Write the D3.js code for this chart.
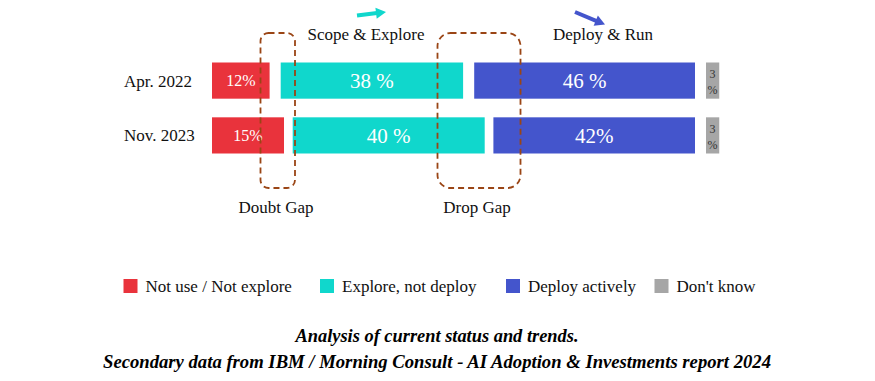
<!DOCTYPE html>
<html>
<head>
<meta charset="utf-8">
<script src="https://cdn.jsdelivr.net/npm/d3@7/dist/d3.min.js"></script>
<style>
  html, body { margin: 0; padding: 0; background: #ffffff; }
  svg { display: block; }
</style>
</head>
<body>
<svg id="chart" width="875" height="381"></svg>
<script>
// ---------- data ----------
const periods = ["Apr. 2022", "Nov. 2023"];
const notUse = [12, 15];
const explore = [38, 40];
const deploy = [46, 42];
const dontKnow = [3, 3];
const notUseLabels = ["12%", "15%"];
const exploreLabels = ["38 %", "40 %"];
const deployLabels = ["46 %", "42%"];
const dontKnowLabels = ["3\n%", "3\n%"];
const legendNames = ["Not use / Not explore", "Explore, not deploy", "Deploy actively", "Don't know"];
const phaseLabels = ["Scope & Explore", "Deploy & Run"];
const gapLabels = ["Doubt Gap", "Drop Gap"];
const captionLines = [
  "Analysis of current status and trends.",
  "Secondary data from IBM / Morning Consult - AI Adoption & Investments report 2024"
];

// ---------- styles ----------
const colors = ["#E9333C", "#10D7CC", "#4455CC", "#A6A6A6"];
const serif = "'Liberation Serif', 'Times New Roman', serif";
const gapColor = "#9A4515";

const svg = d3.select("#chart");

// ---------- scales ----------
const x0 = 212, blueEnd = 695, gap = 11;
const w = d3.scaleLinear().domain([0, 100]).range([0, 480]);
const y = d3.scaleBand().domain(periods).range([62.5, 153.5]).paddingInner(0.34).paddingOuter(0);

const rows = periods.map((p, i) => {
  const rW = w(notUse[i]), tW = w(explore[i]), bW = w(deploy[i]), gW = w(dontKnow[i]) * 0.92;
  const rX = x0;
  const bX = blueEnd - bW;
  const tX = (rX + rW + bX) / 2 - tW / 2;
  const gX = blueEnd + gap;
  return { p, segs: [
    { x: rX, w: rW, c: colors[0], label: notUseLabels[i], size: 16, fill: "#ffffff" },
    { x: tX, w: tW, c: colors[1], label: exploreLabels[i], size: 21, fill: "#ffffff" },
    { x: bX, w: bW, c: colors[2], label: deployLabels[i], size: 21, fill: "#ffffff" },
    { x: gX, w: gW, c: colors[3], label: dontKnowLabels[i], size: 12, fill: "#333333" }
  ]};
});

// ---------- bars ----------
const rowG = svg.selectAll("g.row").data(rows).join("g")
  .attr("class", "row")
  .attr("transform", d => `translate(0,${y(d.p)})`);

rowG.selectAll("rect").data(d => d.segs).join("rect")
  .attr("x", d => d.x).attr("y", 0)
  .attr("width", d => d.w).attr("height", y.bandwidth())
  .attr("fill", d => d.c);

rowG.selectAll("text.lab").data(d => d.segs).join("text")
  .attr("class", "lab")
  .style("font-family", serif)
  .attr("font-size", d => d.size)
  .attr("fill", d => d.fill)
  .attr("text-anchor", "middle")
  .each(function(d) {
    const parts = d.label.split("\n");
    const t = d3.select(this);
    const cx = d.x + d.w / 2;
    if (parts.length === 1) {
      t.append("tspan").attr("x", cx).attr("y", y.bandwidth() / 2 + d.size * 0.34).text(parts[0]);
    } else {
      t.append("tspan").attr("x", cx).attr("y", 15.5).text(parts[0]);
      t.append("tspan").attr("x", cx).attr("y", 31.5).text(parts[1]);
    }
  });

// row labels
svg.selectAll("text.period").data(periods).join("text")
  .attr("class", "period")
  .attr("x", 124)
  .attr("y", d => y(d) + y.bandwidth() / 2 + 6)
  .style("font-family", serif).attr("font-size", 17).attr("fill", "#111")
  .text(d => d);

// ---------- gap boxes (dashed rounded rects) ----------
const boxes = [
  { x: 260.5, y: 33, w: 34.5, h: 155, r: 8, label: gapLabels[0], lx: 276 },
  { x: 437.5, y: 33, w: 83, h: 155, r: 13, label: gapLabels[1], lx: 477 }
];
svg.selectAll("rect.gapbox").data(boxes).join("rect")
  .attr("class", "gapbox")
  .attr("x", d => d.x).attr("y", d => d.y)
  .attr("width", d => d.w).attr("height", d => d.h)
  .attr("rx", d => d.r).attr("ry", d => d.r)
  .attr("fill", "none").attr("stroke", gapColor)
  .attr("stroke-width", 1.8).attr("stroke-dasharray", "6,4");

svg.selectAll("text.gaplab").data(boxes).join("text")
  .attr("class", "gaplab")
  .attr("x", d => d.lx).attr("y", 213)
  .attr("text-anchor", "middle")
  .style("font-family", serif).attr("font-size", 17).attr("fill", "#111")
  .text(d => d.label);

// ---------- phase headers & arrows ----------
const phases = [
  { label: phaseLabels[0], x: 366, color: colors[1], from: [357, 15.5], to: [386, 12] },
  { label: phaseLabels[1], x: 603, color: colors[2], from: [575, 12], to: [605, 24.5] }
];
svg.selectAll("text.phase").data(phases).join("text")
  .attr("class", "phase")
  .attr("x", d => d.x).attr("y", 40)
  .attr("text-anchor", "middle")
  .style("font-family", serif).attr("font-size", 17).attr("fill", "#111")
  .text(d => d.label);

phases.forEach(d => {
  const [fx, fy] = d.from, [tx, ty] = d.to;
  const dx = tx - fx, dy = ty - fy, len = Math.hypot(dx, dy);
  const ux = dx / len, uy = dy / len, nx = -uy, ny = ux;
  const headL = 10, headW = 5.5;
  const bx = tx - ux * headL, by = ty - uy * headL;
  svg.append("line")
    .attr("x1", fx).attr("y1", fy).attr("x2", bx + ux).attr("y2", by + uy)
    .attr("stroke", d.color).attr("stroke-width", 4);
  svg.append("path")
    .attr("d", `M${tx},${ty}L${bx + nx * headW},${by + ny * headW}L${bx - nx * headW},${by - ny * headW}Z`)
    .attr("fill", d.color);
});

// ---------- legend ----------
const legendX = [123.5, 320, 506, 654.5];
const lg = svg.selectAll("g.legend").data(legendNames).join("g")
  .attr("class", "legend")
  .attr("transform", (d, i) => `translate(${legendX[i]},279)`);
lg.append("rect").attr("width", 14).attr("height", 14).attr("fill", (d, i) => colors[i]);
lg.append("text")
  .attr("x", 22).attr("y", 12.5)
  .style("font-family", serif).attr("font-size", 17).attr("fill", "#111")
  .text(d => d);

// ---------- caption ----------
const capLens = [283, 668];
svg.selectAll("text.caption").data(captionLines).join("text")
  .attr("class", "caption")
  .attr("x", 437).attr("y", (d, i) => 342 + i * 26)
  .attr("text-anchor", "middle")
  .style("font-family", serif).attr("font-size", 18)
  .attr("font-weight", "bold").attr("font-style", "italic").attr("fill", "#000")
  .attr("textLength", (d, i) => capLens[i])
  .attr("lengthAdjust", "spacingAndGlyphs")
  .text(d => d);
</script>
</body>
</html>
